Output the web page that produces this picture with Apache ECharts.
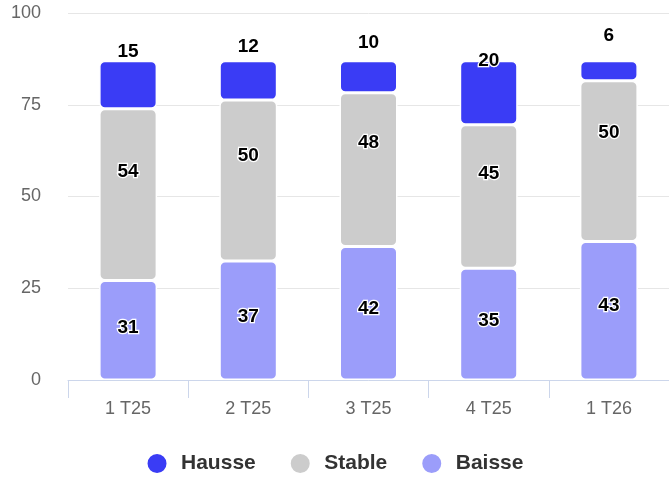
<!DOCTYPE html>
<html><head><meta charset="utf-8">
<script src="https://cdn.jsdelivr.net/npm/echarts@6/dist/echarts.min.js"></script>
<style>html,body{margin:0;padding:0;background:#fff}#c{width:669px;height:479px}</style>
</head><body><div id="c"></div>
<script>
var categories = ['1 T25', '2 T25', '3 T25', '4 T25', '1 T26'];
var hausse = [15.0, 12.3, 10.0, 20.0, 6.2];
var stable = [53.8, 50.4, 48.2, 45.0, 50.4];
var baisse = [31.2, 37.3, 41.8, 35.0, 43.4];
var tickLabels = ['0', '25', '50', '75', '100'];
var yMax = 115;

var FONT = '"Liberation Sans", Arial, sans-serif';
var colors = { Hausse: '#3a3cf5', Stable: '#cccccc', Baisse: '#9b9dfa' };
var BW = 58;

function barSeries(name, data) {
  return {
    name: name, type: 'bar', stack: 'v', data: data, barWidth: BW, barGap: '-100%',
    yAxisIndex: 0,
    itemStyle: { color: colors[name], borderColor: '#ffffff', borderWidth: 1.5, borderRadius: 5 },
    emphasis: { disabled: true }
  };
}
function labelSeries(name, data, offsetY) {
  return {
    name: name + '_lbl', type: 'bar', stack: 'l', data: data, barWidth: BW, barGap: '-100%',
    yAxisIndex: 1, silent: true, z: 5,
    itemStyle: { color: 'rgba(0,0,0,0)' },
    label: {
      show: true, position: 'inside', offset: [0, offsetY],
      formatter: function (p) { return Math.round(p.value); },
      color: '#000', fontSize: 19, fontWeight: 'bold', fontFamily: FONT,
      textBorderColor: '#fff', textBorderWidth: 2.5
    },
    emphasis: { disabled: true }
  };
}

var chart = echarts.init(document.getElementById('c'), null, { renderer: 'canvas' });
chart.setOption({
  animation: false,
  textStyle: { fontFamily: FONT },
  grid: { left: 68, right: 0, top: 13, bottom: 99, containLabel: false },
  legend: {
    data: ['Hausse', 'Stable', 'Baisse'], left: 'center', top: 447,
    icon: 'circle', itemWidth: 38, itemHeight: 21, itemGap: 33,
    textStyle: { fontSize: 21, fontWeight: 'bold', color: '#333', fontFamily: FONT },
    selectedMode: false
  },
  xAxis: {
    type: 'category', data: categories,
    axisLine: { lineStyle: { color: '#ccd6eb', width: 1 } },
    axisTick: { show: true, length: 18, lineStyle: { color: '#ccd6eb' } },
    axisLabel: { color: '#666', fontSize: 18, margin: 20, fontFamily: FONT }
  },
  yAxis: [{
    type: 'value', min: 0, max: yMax, interval: yMax / 4,
    axisLine: { show: false }, axisTick: { show: false },
    splitLine: { lineStyle: { color: '#e6e6e6', width: 1 } },
    axisLabel: {
      color: '#666', fontSize: 18, margin: 27, fontFamily: FONT, padding: [6, 0, 0, 0],
      formatter: function (v) { return tickLabels[Math.round(v / (yMax / 4))]; }
    }
  }, {
    type: 'value', min: 0, max: 100, show: false, splitLine: { show: false }
  }],
  series: [
    barSeries('Baisse', baisse),
    barSeries('Stable', stable),
    barSeries('Hausse', hausse),
    labelSeries('Baisse', baisse, 5),
    labelSeries('Stable', stable, 5),
    labelSeries('Hausse', hausse, 11)
  ]
});
</script></body></html>
